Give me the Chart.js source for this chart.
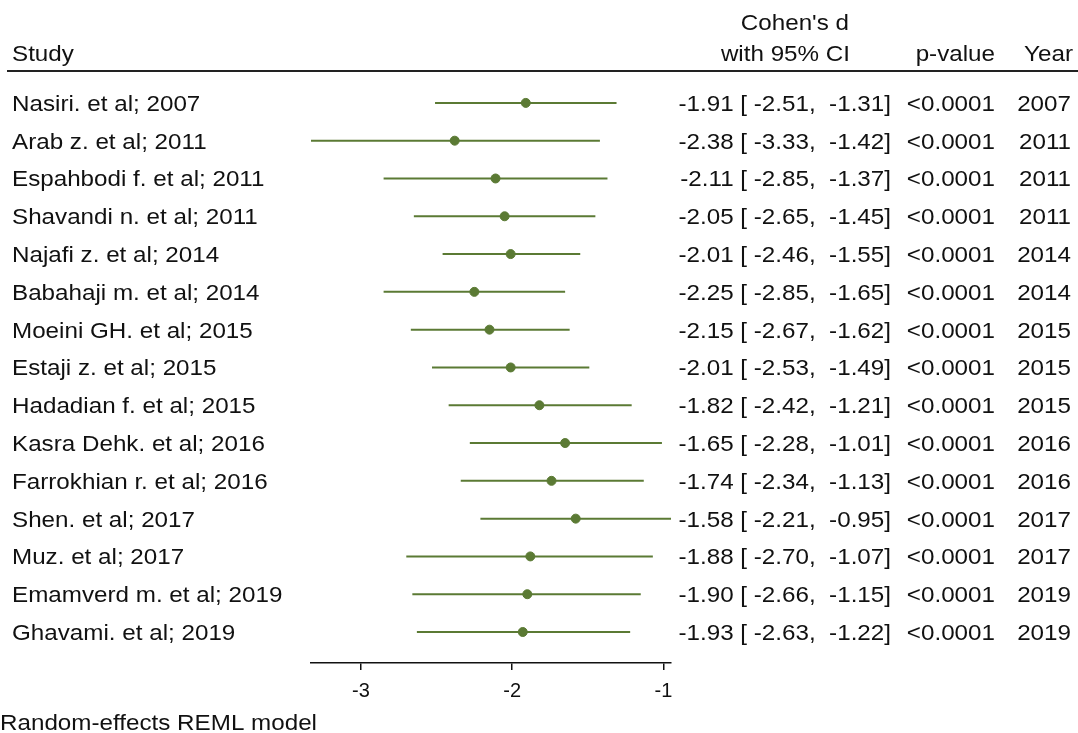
<!DOCTYPE html>
<html lang="en">
<head>
<meta charset="UTF-8">
<title>Forest plot - Cohen's d</title>
<script src="https://cdn.jsdelivr.net/npm/chart.js"></script>
<style>
  body {
    margin: 0;
    background-color: #fff;
  }
  #forest {
    display: block;
  }
</style>
</head>
<body>

<canvas id="forest" width="1078" height="733"></canvas>

<script>
  // study data
  const studies = ['Nasiri. et al; 2007', 'Arab z. et al; 2011', 'Espahbodi f. et al; 2011',
    'Shavandi n. et al; 2011', 'Najafi z. et al; 2014', 'Babahaji m. et al; 2014',
    'Moeini GH. et al; 2015', 'Estaji z. et al; 2015', 'Hadadian f. et al; 2015',
    'Kasra Dehk. et al; 2016', 'Farrokhian r. et al; 2016', 'Shen. et al; 2017',
    'Muz. et al; 2017', 'Emamverd m. et al; 2019', 'Ghavami. et al; 2019'];
  const effect = [-1.91, -2.38, -2.11, -2.05, -2.01, -2.25, -2.15, -2.01, -1.82, -1.65, -1.74, -1.58, -1.88, -1.90, -1.93];
  const ciLow = [-2.51, -3.33, -2.85, -2.65, -2.46, -2.85, -2.67, -2.53, -2.42, -2.28, -2.34, -2.21, -2.70, -2.66, -2.63];
  const ciHigh = [-1.31, -1.42, -1.37, -1.45, -1.55, -1.65, -1.62, -1.49, -1.21, -1.01, -1.13, -0.95, -1.07, -1.15, -1.22];
  const pValues = ['<0.0001', '<0.0001', '<0.0001', '<0.0001', '<0.0001', '<0.0001', '<0.0001', '<0.0001',
    '<0.0001', '<0.0001', '<0.0001', '<0.0001', '<0.0001', '<0.0001', '<0.0001'];
  const years = [2007, 2011, 2011, 2011, 2014, 2014, 2015, 2015, 2015, 2016, 2016, 2017, 2017, 2019, 2019];
  const xTicks = [-3, -2, -1];

  const green = '#5b7a34';
  const ink = '#111';
  const textFont = '22px "Liberation Sans", Arial, sans-serif';
  const stretch = 1.1;

  function pad(s, n) {
    while (s.length < n) s = ' ' + s;
    return s;
  }

  function ciText(i) {
    return effect[i].toFixed(2) + ' [' + pad(ciLow[i].toFixed(2), 6) + ',' + pad(ciHigh[i].toFixed(2), 7) + ']';
  }

  function drawText(ctx, str, x, y, align) {
    ctx.save();
    ctx.translate(x, y);
    ctx.scale(stretch, 1);
    ctx.textAlign = align;
    ctx.textBaseline = 'alphabetic';
    ctx.fillText(str, 0, 0);
    ctx.restore();
  }

  const tablePlugin = {
    id: 'forestTable',
    afterDraw(chart) {
      const ctx = chart.ctx;
      const yScale = chart.scales.y;
      ctx.save();
      ctx.font = textFont;
      ctx.fillStyle = ink;

      // header
      drawText(ctx, 'Study', 12, 61, 'left');
      drawText(ctx, "Cohen's d", 849, 30, 'right');
      drawText(ctx, 'with 95% CI', 850, 61, 'right');
      drawText(ctx, 'p-value', 995, 61, 'right');
      drawText(ctx, 'Year', 1073, 61, 'right');

      ctx.strokeStyle = '#222';
      ctx.lineWidth = 2;
      ctx.beginPath();
      ctx.moveTo(7, 71);
      ctx.lineTo(1078, 71);
      ctx.stroke();

      // rows
      studies.forEach((name, i) => {
        const y = yScale.getPixelForValue(i) + 8;
        drawText(ctx, name, 12, y, 'left');
        drawText(ctx, ciText(i), 891, y, 'right');
        drawText(ctx, pValues[i], 995, y, 'right');
        drawText(ctx, String(years[i]), 1071, y, 'right');
      });

      drawText(ctx, 'Random-effects REML model', 0, 730, 'left');
      ctx.restore();
    }
  };

  const ciSets = studies.map((s, i) => ({
    type: 'scatter',
    showLine: true,
    data: [{ x: ciLow[i], y: i }, { x: ciHigh[i], y: i }],
    borderColor: green,
    borderWidth: 2,
    pointRadius: 0,
    order: 2
  }));

  const pointSet = {
    type: 'scatter',
    data: effect.map((v, i) => ({ x: v, y: i })),
    backgroundColor: green,
    borderColor: green,
    pointRadius: 4.5,
    order: 1
  };

  new Chart(document.getElementById('forest'), {
    type: 'scatter',
    data: { datasets: ciSets.concat([pointSet]) },
    plugins: [tablePlugin],
    options: {
      responsive: false,
      animation: false,
      devicePixelRatio: 1,
      layout: {
        padding: { left: 311, right: 407, top: 84, bottom: 21 }
      },
      plugins: {
        legend: { display: false },
        tooltip: { enabled: false }
      },
      scales: {
        x: {
          type: 'linear',
          min: -3.33,
          max: -0.95,
          afterBuildTicks: axis => {
            axis.ticks = xTicks.map(v => ({ value: v }));
          },
          ticks: {
            color: ink,
            font: { family: '"Liberation Sans", Arial, sans-serif', size: 20 },
            padding: 9,
            maxRotation: 0
          },
          grid: {
            drawOnChartArea: false,
            tickLength: 7,
            color: ink,
            lineWidth: 1.5
          },
          border: { display: true, color: ink, width: 1.5 }
        },
        y: {
          type: 'linear',
          display: false,
          reverse: true,
          min: -0.5,
          max: 14.82
        }
      }
    }
  });
</script>

</body>
</html>
